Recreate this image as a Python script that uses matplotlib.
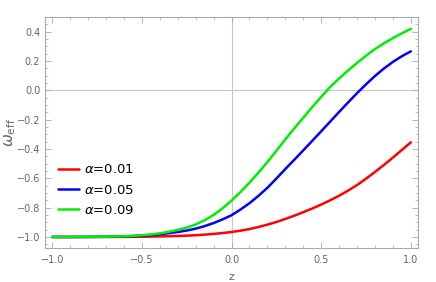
import matplotlib
matplotlib.use("Agg")
import matplotlib.pyplot as plt
from matplotlib.ticker import MultipleLocator

z = [-1.0, -0.9, -0.8, -0.7, -0.6, -0.55, -0.5, -0.45, -0.4, -0.35, -0.3, -0.25, -0.2, -0.15,
     -0.1, -0.05, 0.0, 0.05, 0.1, 0.15, 0.2, 0.25, 0.3, 0.35, 0.4, 0.45, 0.5, 0.55, 0.6, 0.65,
     0.7, 0.75, 0.8, 0.85, 0.9, 0.95, 1.0]
w_001 = [-1.0, -1.0, -0.9999, -0.9997, -0.9993, -0.9988, -0.998, -0.997, -0.996, -0.9945, -0.993,
         -0.991, -0.988, -0.984, -0.979, -0.973, -0.966, -0.957, -0.946, -0.932, -0.916, -0.898,
         -0.877, -0.855, -0.831, -0.806, -0.779, -0.75, -0.719, -0.684, -0.646, -0.603, -0.557,
         -0.509, -0.459, -0.407, -0.355]
w_005 = [-1.0, -0.9999, -0.9995, -0.9985, -0.996, -0.994, -0.991, -0.987, -0.981, -0.974, -0.966,
         -0.956, -0.943, -0.926, -0.905, -0.88, -0.852, -0.813, -0.77, -0.72, -0.665, -0.602,
         -0.537, -0.474, -0.41, -0.345, -0.28, -0.214, -0.148, -0.083, -0.02, 0.04, 0.097, 0.148,
         0.193, 0.232, 0.265]
w_009 = [-1.0, -0.9998, -0.9993, -0.998, -0.995, -0.992, -0.988, -0.983, -0.975, -0.965, -0.952,
         -0.936, -0.915, -0.886, -0.85, -0.805, -0.752, -0.694, -0.63, -0.562, -0.49, -0.413,
         -0.335, -0.26, -0.188, -0.115, -0.045, 0.022, 0.08, 0.135, 0.186, 0.235, 0.28, 0.32,
         0.355, 0.388, 0.418]
labels = [r"$\alpha$=0.01", r"$\alpha$=0.05", r"$\alpha$=0.09"]
colors = ["#ff0000", "#0000ff", "#00ee00"]

fig = plt.figure(figsize=(4.36, 2.82), dpi=100)
ax = fig.add_axes([45/436, 1-248/282, (418-45)/436, (248-17.3)/282])

for w, lab, c in zip([w_001, w_005, w_009], labels, colors):
    ax.plot(z, w, color=c, lw=1.8, label=lab, solid_capstyle="round", solid_joinstyle="round")

ax.axhline(0, color="#c8c8c8", lw=0.8, zorder=0)
ax.axvline(0, color="#c8c8c8", lw=0.8, zorder=0)

ax.set_xlim(-1.04, 1.04)
ax.set_ylim(-1.075, 0.497)
ax.xaxis.set_major_locator(MultipleLocator(0.5))
ax.xaxis.set_minor_locator(MultipleLocator(0.1))
ax.yaxis.set_major_locator(MultipleLocator(0.2))
ax.yaxis.set_minor_locator(MultipleLocator(0.05))
fmt = plt.FuncFormatter(lambda v, p: f"{v:.1f}".replace("-", "\u2212"))
ax.xaxis.set_major_formatter(fmt)
ax.yaxis.set_major_formatter(fmt)

gray = "#aaaaaa"
for s in ax.spines.values():
    s.set_color(gray)
    s.set_linewidth(0.8)
ax.tick_params(which="both", direction="in", top=True, right=True, color=gray,
               labelcolor="#666666", labelsize=7)
ax.tick_params(which="major", length=4, width=0.6)
ax.tick_params(which="minor", length=2, width=0.5)
ax.tick_params(axis="x", pad=5)

ax.set_xlabel("z", color="#666666", fontsize=8, labelpad=5)
ax.set_ylabel(r"$\omega_{\rm eff}$", color="#666666", fontsize=11)
ax.yaxis.set_label_coords(-0.072, 0.5)

leg = ax.legend(loc="upper left", bbox_to_anchor=(0.021, 0.39), frameon=False, fontsize=9.5,
                handlelength=1.6, handletextpad=0.4, labelspacing=0.55, borderaxespad=0.0)

fig.savefig("out.png", dpi=100)
